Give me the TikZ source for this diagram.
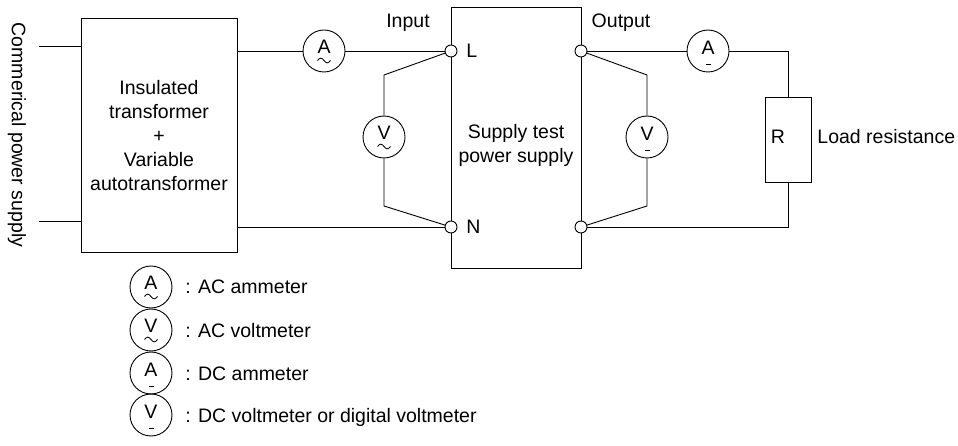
\documentclass[tikz,border=0pt]{standalone}
\usepackage{fontspec}
\setmainfont{Liberation Sans}
\usetikzlibrary{calc}
\newcommand\mymeter[4]{% name, position, letter, ac/dc
  \node[mcirc] (#1) at (#2) {};
  \ifx a#4
    \node[mtext] (#1-l) at ($(#1)+(0,-4)$) {#3};
    \draw[line width=0.8pt] ($(#1)+(-6.5,9.5)$) sin ++(3.25,-2.4) cos ++(3.25,2.4) sin ++(3.25,2.4) cos ++(3.25,-2.4);
  \else
    \node[mtext] (#1-l) at ($(#1)+(0,-3)$) {#3};
    \draw[line width=1.6pt] ($(#1)+(-2.5,13.5)$) -- ++(5,0);
  \fi
}
\begin{document}
\begin{tikzpicture}[x=1pt,y=-1pt, line width=0.9pt,
  every node/.style={font=\fontsize{19.5}{24}\selectfont, inner sep=0pt},
  box/.style={draw, rectangle, inner sep=0pt},
  term/.style={draw, circle, fill=white, minimum size=12pt, inner sep=0pt},
  mcirc/.style={draw, circle, minimum size=42pt, inner sep=0pt},
  mtext/.style={inner sep=0pt},
]
\useasboundingbox (0,0) rectangle (958,446);

% left side
\node[rotate=-90] (cps) at (17,135) {Commerical power supply};
\node[box, minimum width=156pt, minimum height=234pt] (tr) at (159,135) {};
\node[align=center] (trt) at (159,136) {Insulated\\transformer\\+\\Variable\\autotransformer};
\coordinate (cin1) at (39,46);
\coordinate (cin2) at (39,221);
\draw (cin1) -- (cin1 -| tr.west);
\draw (cin2) -- (cin2 -| tr.west);

% supply under test
\node[box, minimum width=130pt, minimum height=261pt] (sut) at (516,137.5) {};
\node[align=center] (sutt) at (516,145) {Supply test\\power supply};

% meters
\mymeter{am1}{324,51}{A}{a}
\mymeter{vac}{384,137}{V}{a}
\mymeter{am2}{708,51}{A}{d}
\mymeter{vdc}{647,137}{V}{d}

% resistor
\node[box, minimum width=46pt, minimum height=85pt] (res) at (788,139.5) {};
\node (rl) at (778,137) {R};
\node[anchor=west] (lr) at (817,137) {Load resistance};

% corner coordinates
\coordinate (vk1) at (384,75);
\coordinate (vk2) at (384,206);
\coordinate (vk3) at (647,75);
\coordinate (vk4) at (647,206);
\coordinate (rc1) at (788,51);
\coordinate (rc2) at (788,227);
\coordinate (tLp) at (451,51);
\coordinate (tNp) at (451,227);

% wires
\draw (tLp -| tr.east) -- (am1) -- (tLp);
\draw (tNp -| tr.east) -- (tNp);
\draw (tLp) -- (vk1) -- (vac);
\draw (vac) -- (vk2) -- (tNp);
\draw (581,51) -- (am2) -- (rc1) -- (res);
\draw (res) -- (rc2) -- (581,227);
\draw (581,51) -- (vk3) -- (vdc);
\draw (vdc) -- (vk4) -- (581,227);

% terminals
\node[term] (tL) at (451,51) {};
\node[term] (tN) at (451,227) {};
\node[term] (oL) at (581,51) {};
\node[term] (oN) at (581,227) {};

% labels
\node[anchor=base] (inl) at (408,28) {Input};
\node[anchor=base] (outl) at (621,28) {Output};
\node[anchor=west] (ll) at (466,51) {L};
\node[anchor=west] (nl) at (466,227) {N};

% legend
\mymeter{lg1}{151,287}{A}{a}
\mymeter{lg2}{151,330}{V}{a}
\mymeter{lg3}{151,373}{A}{d}
\mymeter{lg4}{151,415}{V}{d}
\node[anchor=base west] (lt1) at (185,294) {: AC ammeter};
\node[anchor=base west] (lt2) at (185,337) {: AC voltmeter};
\node[anchor=base west] (lt3) at (185,380) {: DC ammeter};
\node[anchor=base west] (lt4) at (185,422) {: DC voltmeter or digital voltmeter};
\end{tikzpicture}
\end{document}
